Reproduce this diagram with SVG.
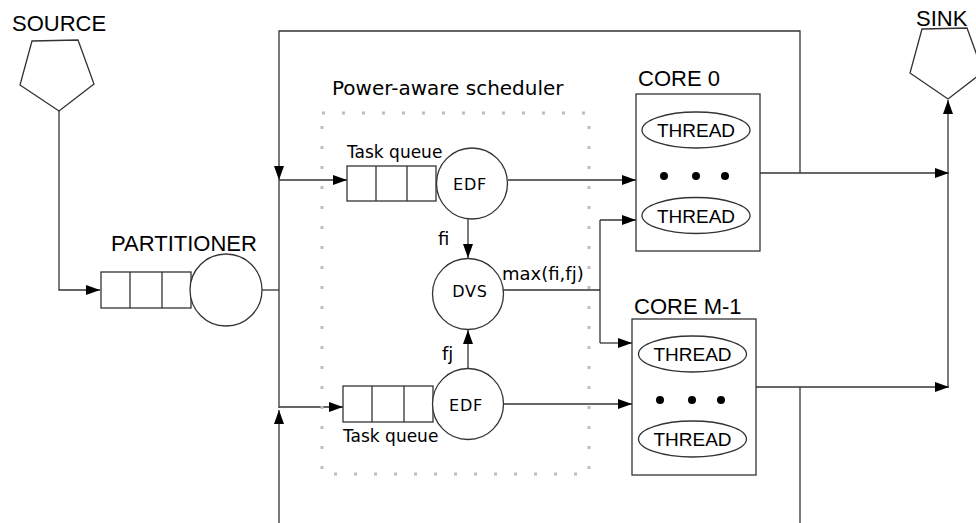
<svg xmlns="http://www.w3.org/2000/svg" width="976" height="523" viewBox="0 0 976 523">
  <defs>
    <marker id="arr" markerUnits="userSpaceOnUse" markerWidth="14" markerHeight="10" refX="14" refY="5" orient="auto">
      <path d="M0,0 L14,5 L0,10 z" fill="#000"/>
    </marker>
    <style>
      .s { fill: #fff; stroke: #333; stroke-width: 1.3; }
      .n { fill: none; stroke: #333; stroke-width: 1.3; }
      .c { fill: none; stroke: #333; stroke-width: 1.3; }
      .a { marker-end: url(#arr); }
      .dots { fill: none; stroke: #bdbdbd; stroke-width: 3; stroke-dasharray: 3 17; }
      .lab { font-family: "Liberation Sans", Arial, sans-serif; font-size: 22px; fill: #000; }
      .thr { font-family: "Liberation Sans", Arial, sans-serif; font-size: 19px; fill: #000; text-anchor: middle; }
      .dj { font-family: "DejaVu Sans", Verdana, sans-serif; fill: #000; }
      .cap { font-size: 16px; letter-spacing: 0.8px; text-anchor: middle; }
    </style>
  </defs>
  <rect width="976" height="523" fill="#fff"/>

  <g id="connectors">
    <path class="c a" d="M59,111 V290 H100"/>
    <path class="c" d="M262,290 H279"/>
    <path class="c a" d="M800,173 V31 H279 V180"/>
    <path class="c" d="M279,180 V408"/>
    <path class="c a" d="M279,523 V410"/>
    <path class="c a" d="M279,180 H347"/>
    <path class="c a" d="M279,407 H343"/>
    <path class="c a" d="M508,180 H636"/>
    <path class="c a" d="M468,219 V258"/>
    <path class="c a" d="M468,368 V330"/>
    <path class="c a" d="M504,404 H632"/>
    <path class="c" d="M503,290 H600 M600,220 V343"/>
    <path class="c a" d="M600,220 H636"/>
    <path class="c a" d="M600,343 H632"/>
    <path class="c a" d="M760,173 H949"/>
    <path class="c a" d="M756,387 H949"/>
    <path class="c" d="M800,387 V523"/>
    <path class="c a" d="M948,387 V100"/>
  </g>

  <g id="source">
    <polygon class="s" points="32,41 78,40 94,84 59,111 20,85"/>
    <text class="lab" x="12" y="31">SOURCE</text>
  </g>

  <g id="partitioner">
    <rect class="s" x="101" y="272" width="90" height="36"/>
    <path class="n" d="M130,272 V308 M162,272 V308"/>
    <circle class="s" cx="226" cy="290" r="36"/>
    <text class="lab" x="111" y="251">PARTITIONER</text>
  </g>

  <g id="scheduler">
    <rect class="dots" x="322" y="113" width="267" height="361"/>
    <text class="dj" x="332" y="95" font-size="20">Power-aware scheduler</text>
  </g>

  <g id="queue-top">
    <rect class="s" x="347" y="166" width="89" height="35"/>
    <path class="n" d="M376,166 V201 M407,166 V201"/>
    <text class="dj" x="347" y="158" font-size="17">Task queue</text>
  </g>

  <g id="edf-top">
    <circle class="s" cx="472" cy="183.5" r="35.5"/>
    <text class="dj cap" x="470" y="190">EDF</text>
  </g>

  <g id="dvs">
    <circle class="s" cx="468" cy="294" r="35.5"/>
    <text class="dj cap" x="470" y="297">DVS</text>
    <text class="dj" x="438" y="245" font-size="18">fi</text>
    <text class="dj" x="442" y="360" font-size="18">fj</text>
    <text class="dj" x="502" y="280" font-size="18">max(fi,fj)</text>
  </g>

  <g id="queue-bottom">
    <rect class="s" x="343" y="386" width="90" height="36"/>
    <path class="n" d="M372,386 V422 M404,386 V422"/>
    <text class="dj" x="343" y="442" font-size="17">Task queue</text>
  </g>

  <g id="edf-bottom">
    <circle class="s" cx="468" cy="404" r="35.5"/>
    <text class="dj cap" x="466" y="411">EDF</text>
  </g>

  <g id="core0">
    <rect class="s" x="636" y="94" width="124" height="157"/>
    <text class="lab" x="638" y="86">CORE 0</text>
    <ellipse class="s" cx="696" cy="130" rx="54" ry="18"/>
    <text class="thr" x="696" y="137">THREAD</text>
    <circle cx="664" cy="176" r="4" fill="#000"/>
    <circle cx="696" cy="176" r="4" fill="#000"/>
    <circle cx="725" cy="176" r="4" fill="#000"/>
    <ellipse class="s" cx="696" cy="215.5" rx="54" ry="18"/>
    <text class="thr" x="696" y="222.5">THREAD</text>
  </g>

  <g id="coreM1">
    <rect class="s" x="632" y="319" width="124" height="156"/>
    <text class="lab" x="634" y="314">CORE M-1</text>
    <ellipse class="s" cx="692.5" cy="354" rx="54" ry="18"/>
    <text class="thr" x="692.5" y="361">THREAD</text>
    <circle cx="660" cy="400" r="4" fill="#000"/>
    <circle cx="692" cy="400" r="4" fill="#000"/>
    <circle cx="721" cy="400" r="4" fill="#000"/>
    <ellipse class="s" cx="692.5" cy="439" rx="54" ry="18"/>
    <text class="thr" x="692.5" y="446">THREAD</text>
  </g>

  <g id="sink">
    <polygon class="s" points="922,29 967,28 983,72 948,99 910,73"/>
    <text class="lab" x="916" y="26">SINK</text>
  </g>
</svg>
